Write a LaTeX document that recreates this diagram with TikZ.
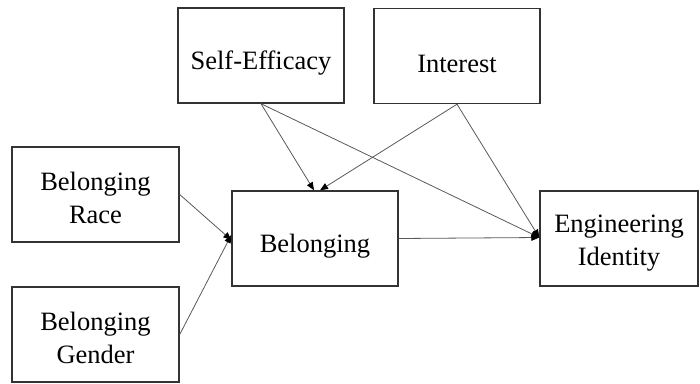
\documentclass[tikz,border=0pt]{standalone}
\usepackage{fontspec}
\setmainfont{Liberation Serif}
\usepackage{tikz}
\usetikzlibrary{arrows.meta}

\tikzset{
  varbox/.style={draw=black!80, line width=1.4pt, rectangle, minimum width=166pt, minimum height=95pt,
    align=center, inner sep=0pt, font=\fontsize{26.5}{33}\selectfont, text height=34pt},
  twoline/.style={text height=59pt},
  path/.style={draw=black!65, line width=0.8pt, -{Triangle[length=8pt,width=6.5pt,color=black]}}
}

\begin{document}
\begin{tikzpicture}[x=1pt,y=-1pt]
\useasboundingbox (0,0) rectangle (700,383);
\path
(261,55.5) node[varbox] (se) {Self-Efficacy};
\path
(457,56) node[varbox] (int) {Interest};
\path
(95.5,194.5) node[varbox, twoline, minimum width=167pt] (race) {Belonging\\Race};
\path
(95.5,334.5) node[varbox, twoline, minimum width=167pt] (gender) {Belonging\\Gender};
\path
(315,238.5) node[varbox] (bel) {Belonging};
\path
(619,238.5) node[varbox, twoline, minimum width=158pt] (eng) {Engineering\\Identity};
\draw[path] (race.east) -- ([yshift=-1.5pt]bel.west);
\draw[path] (gender.east) -- ([yshift=3.5pt]bel.west);
\draw[path] (se.south) -- ([xshift=-1pt]bel.north);
\draw[path] (int.south) -- ([xshift=5pt]bel.north);
\draw[path] (se.south) -- ([yshift=1pt]eng.west);
\draw[path] (int.south) -- ([yshift=1pt]eng.west);
\draw[path] (bel.east) -- ([yshift=1pt]eng.west);
\end{tikzpicture}
\end{document}
